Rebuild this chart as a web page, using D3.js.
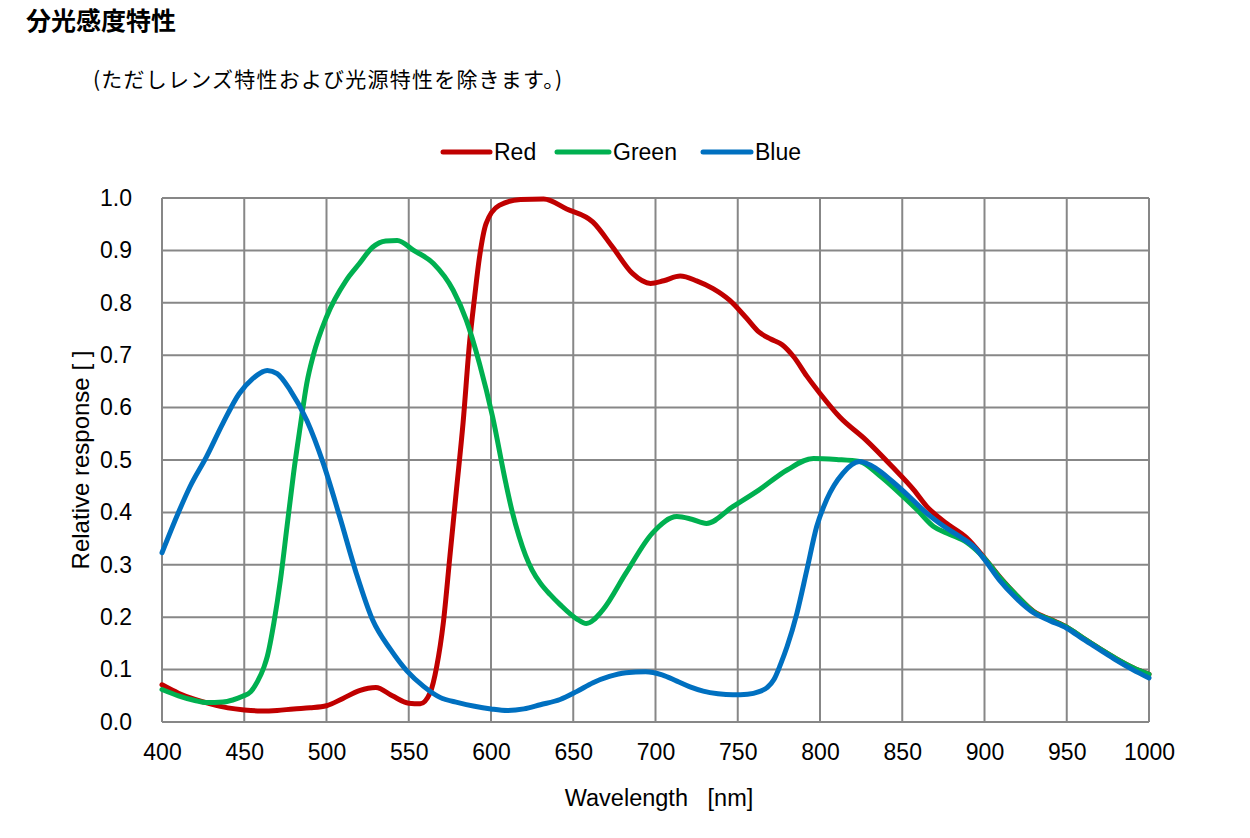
<!DOCTYPE html>
<html lang="ja">
<head>
    <meta charset="UTF-8">
    <title>分光感度特性</title>
    <script src="https://d3js.org/d3.v7.min.js"></script>
    <style>
        body {
            margin: 0;
            background: #fff;
            font-family: "Liberation Sans", Arial, sans-serif;
        }
        svg text {
            fill: #000;
        }
    </style>
</head>
<body>
    <svg id="chart" width="1250" height="838"></svg>

    <script>
        // wavelength ticks and value ticks
        const xTicks = [400, 450, 500, 550, 600, 650, 700, 750, 800, 850, 900, 950, 1000];
        const yTicks = [0, 0.1, 0.2, 0.3, 0.4, 0.5, 0.6, 0.7, 0.8, 0.9, 1.0];

        const seriesNames = ["Red", "Green", "Blue"];
        const seriesColors = ["#C00000", "#00B050", "#0070C0"];

        // [wavelength nm, relative response]
        const redData = [
            [400, 0.071], [410, 0.055], [420, 0.043], [430, 0.034], [440, 0.027], [450, 0.023],
            [460, 0.021], [470, 0.022], [480, 0.025], [490, 0.027], [500, 0.031], [510, 0.045],
            [520, 0.060], [530, 0.066], [540, 0.050], [550, 0.036], [557, 0.035], [563, 0.056],
            [567, 0.106], [571, 0.189], [575, 0.316], [579, 0.443], [583, 0.570], [587, 0.725],
            [590, 0.810], [593, 0.887], [597, 0.951], [605, 0.986], [618, 0.997], [632, 0.998],
            [646, 0.979], [662, 0.954], [674, 0.906], [686, 0.856], [697, 0.837], [705, 0.842],
            [715, 0.851], [725, 0.842], [735, 0.827], [745, 0.805], [755, 0.772], [763, 0.744],
            [770, 0.731], [777, 0.720], [784, 0.697], [792, 0.660], [800, 0.627], [812, 0.582],
            [828, 0.538], [844, 0.487], [857, 0.443], [865, 0.411], [877, 0.379], [889, 0.352],
            [900, 0.313], [910, 0.274], [920, 0.240], [930, 0.211], [940, 0.196], [950, 0.181],
            [960, 0.160], [970, 0.140], [980, 0.121], [990, 0.104], [1000, 0.091]
        ];

        const greenData = [
            [400, 0.062], [410, 0.050], [420, 0.041], [427, 0.037], [437, 0.038], [443, 0.042],
            [449, 0.049], [454, 0.058], [458, 0.077], [462, 0.105], [464, 0.125], [468, 0.189],
            [472, 0.271], [476, 0.373], [480, 0.475], [484, 0.563], [488, 0.646], [492, 0.700],
            [500, 0.773], [512, 0.843], [520, 0.875], [528, 0.906], [536, 0.918], [543, 0.919],
            [553, 0.900], [565, 0.875], [577, 0.824], [585, 0.767], [593, 0.684], [601, 0.582],
            [609, 0.456], [613, 0.400], [617, 0.355], [621, 0.318], [625, 0.290], [630, 0.265],
            [636, 0.243], [642, 0.224], [652, 0.197], [658, 0.188], [668, 0.214], [682, 0.284],
            [698, 0.360], [713, 0.392], [722, 0.387], [731, 0.379], [747, 0.411], [763, 0.443],
            [780, 0.481], [796, 0.503], [810, 0.501], [824, 0.497], [836, 0.471], [850, 0.432],
            [859, 0.405], [869, 0.373], [879, 0.358], [889, 0.343], [900, 0.312], [910, 0.273],
            [920, 0.240], [930, 0.210], [940, 0.195], [950, 0.181], [960, 0.160], [970, 0.140],
            [980, 0.121], [990, 0.104], [1000, 0.091]
        ];

        const blueData = [
            [400, 0.323], [410, 0.400], [417, 0.449], [427, 0.506], [437, 0.570], [447, 0.627],
            [455, 0.655], [464, 0.671], [470, 0.665], [478, 0.633], [488, 0.576], [498, 0.494],
            [508, 0.392], [518, 0.285], [528, 0.195], [539, 0.138], [549, 0.097], [559, 0.068],
            [569, 0.047], [580, 0.037], [590, 0.030], [600, 0.025], [610, 0.022], [620, 0.025],
            [630, 0.033], [642, 0.043], [652, 0.058], [662, 0.075], [672, 0.087], [682, 0.094],
            [694, 0.096], [704, 0.090], [713, 0.078], [721, 0.067], [729, 0.059], [738, 0.054],
            [747, 0.052], [756, 0.053], [763, 0.058], [768, 0.066], [772, 0.081], [776, 0.110],
            [780, 0.144], [786, 0.208], [792, 0.290], [798, 0.373], [804, 0.424], [814, 0.475],
            [824, 0.497], [834, 0.484], [844, 0.459], [855, 0.428], [865, 0.398], [875, 0.374],
            [885, 0.354], [895, 0.330], [900, 0.310], [909, 0.271], [919, 0.237], [930, 0.208],
            [940, 0.193], [950, 0.179], [960, 0.158], [970, 0.138], [980, 0.118], [990, 0.100],
            [1000, 0.084]
        ];

        const allSeries = [redData, greenData, blueData];

        const svg = d3.select("#chart");

        // headings
        svg.append("text")
            .attr("x", 26)
            .attr("y", 30)
            .style("font-family", "'Noto Sans CJK JP', sans-serif")
            .style("font-weight", "bold")
            .style("font-size", "25px")
            .text("分光感度特性");

        svg.append("text")
            .attr("x", 93)
            .attr("y", 87)
            .attr("textLength", 469)
            .attr("lengthAdjust", "spacing")
            .style("font-family", "'Noto Sans CJK JP', serif")
            .style("font-size", "21px")
            .text("(ただしレンズ特性および光源特性を除きます。)");

        const plotLeft = 162, plotRight = 1149, plotTop = 198, plotBottom = 722;

        const x = d3.scaleLinear().domain([400, 1000]).range([plotLeft, plotRight]);
        const y = d3.scaleLinear().domain([0, 1]).range([plotBottom, plotTop]);

        const gridColor = "#878787";

        // grid
        svg.append("g")
            .selectAll("line")
            .data(xTicks)
            .enter().append("line")
            .attr("x1", d => x(d))
            .attr("x2", d => x(d))
            .attr("y1", plotTop)
            .attr("y2", plotBottom)
            .attr("stroke", gridColor)
            .attr("stroke-width", 2);

        svg.append("g")
            .selectAll("line")
            .data(yTicks)
            .enter().append("line")
            .attr("x1", plotLeft)
            .attr("x2", plotRight)
            .attr("y1", d => y(d))
            .attr("y2", d => y(d))
            .attr("stroke", gridColor)
            .attr("stroke-width", 2);

        // axes (labels only, lines come from the grid)
        const xAxis = svg.append("g")
            .attr("transform", `translate(0,${plotBottom})`)
            .call(d3.axisBottom(x).tickValues(xTicks).tickSize(0).tickPadding(22).tickFormat(d3.format("d")));
        xAxis.select(".domain").remove();
        xAxis.selectAll("text")
            .style("font-family", "'Liberation Sans', Arial, sans-serif")
            .style("font-size", "23px");

        const yAxis = svg.append("g")
            .attr("transform", `translate(${plotLeft},0)`)
            .call(d3.axisLeft(y).tickValues(yTicks).tickSize(0).tickPadding(30).tickFormat(d3.format(".1f")));
        yAxis.select(".domain").remove();
        yAxis.selectAll("text")
            .style("font-family", "'Liberation Sans', Arial, sans-serif")
            .style("font-size", "23px");

        svg.append("text")
            .attr("x", 659)
            .attr("y", 806)
            .attr("text-anchor", "middle")
            .style("font-size", "23.5px")
            .attr("xml:space", "preserve")
            .style("white-space", "pre")
            .text("Wavelength   [nm]");

        svg.append("text")
            .attr("transform", "translate(89,460) rotate(-90)")
            .attr("text-anchor", "middle")
            .style("font-size", "24px")
            .text("Relative response [ ]");

        // curves
        const line = d3.line()
            .x(d => x(d[0]))
            .y(d => y(d[1]))
            .curve(d3.curveMonotoneX);

        svg.append("g")
            .selectAll("path")
            .data(allSeries)
            .enter().append("path")
            .attr("d", d => line(d))
            .attr("fill", "none")
            .attr("stroke", (d, i) => seriesColors[i])
            .attr("stroke-width", 5)
            .attr("stroke-linejoin", "round")
            .attr("stroke-linecap", "round");

        // legend
        const legendItems = [
            { x: 443, tx: 494 },
            { x: 557, tx: 613 },
            { x: 703, tx: 755 }
        ];
        const legend = svg.append("g");
        legend.selectAll("line")
            .data(seriesNames)
            .enter().append("line")
            .attr("x1", (d, i) => legendItems[i].x)
            .attr("x2", (d, i) => legendItems[i].tx - 4)
            .attr("y1", 152)
            .attr("y2", 152)
            .attr("stroke", (d, i) => seriesColors[i])
            .attr("stroke-width", 5)
            .attr("stroke-linecap", "round");
        legend.selectAll("text")
            .data(seriesNames)
            .enter().append("text")
            .attr("x", (d, i) => legendItems[i].tx)
            .attr("y", 160)
            .style("font-size", "23px")
            .text(d => d);
    </script>
</body>
</html>
